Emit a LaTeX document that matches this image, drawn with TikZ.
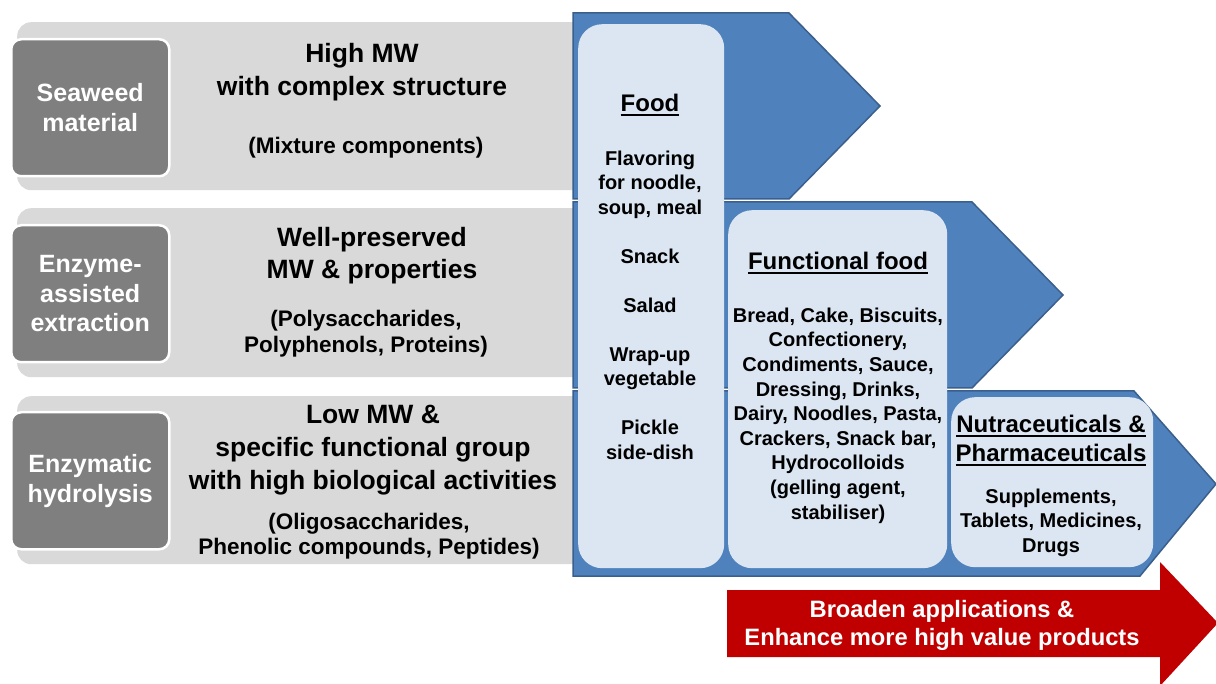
\documentclass[tikz,border=0pt]{standalone}
\usepackage{fontspec}
\setmainfont{Liberation Sans}
\definecolor{barg}{HTML}{D9D9D9}
\definecolor{darkg}{HTML}{7F7F7F}
\definecolor{blu}{HTML}{4F81BD}
\definecolor{bluedge}{HTML}{3A5F8C}
\definecolor{lightb}{HTML}{DCE6F2}
\definecolor{redarr}{HTML}{C00000}
\newcommand\myul[1]{\setbox0=\hbox{#1}\leavevmode\rlap{\rule[-4pt]{\wd0}{2pt}}\box0}
\begin{document}
\begin{tikzpicture}[x=1pt,y=-1pt,
  greybar/.style={fill=barg,draw=none,rounded corners=14pt,anchor=north west,inner sep=0pt,minimum width=590pt},
  darkbox/.style={fill=darkg,draw=white,line width=2.5pt,rounded corners=10pt,anchor=north west,inner sep=0pt,
    minimum width=158pt,minimum height=137pt,text=white,align=center,font=\fontsize{25}{30}\selectfont\bfseries},
  chev/.style={fill=blu,draw=bluedge,line width=1.5pt,line join=miter},
  lbox/.style={fill=lightb,draw=none,rounded corners=24pt,anchor=north west,inner sep=0pt},
  head/.style={anchor=north,align=center,inner sep=0pt},
]
\useasboundingbox (0,0) rectangle (1216,684);
\clip (0,0) rectangle (1216,684);

% grey rows
\node[greybar,minimum height=168pt] (g1) at (17,22) {};
\node[greybar,minimum height=169pt] (g2) at (17,208) {};
\node[greybar,minimum height=168pt] (g3) at (17,396) {};

% dark boxes
\node[darkbox] (d1) at (10,38) {Seaweed\\material};
\node[darkbox,font=\fontsize{25}{29.5}\selectfont\bfseries] (d2) at (10,224) {Enzyme-\\assisted\\extraction};
\node[darkbox] (d3) at (10,411) {Enzymatic\\hydrolysis};

% row texts
\node[head,font=\fontsize{26.5}{33}\selectfont\bfseries] (h1) at (362,43.2) {High MW\\with complex structure};
\node[head,font=\fontsize{22.5}{26}\selectfont\bfseries] (s1) at (366,136.7) {(Mixture components)};
\node[head,font=\fontsize{26.5}{32}\selectfont\bfseries] (h2) at (372,227.2) {Well-preserved\\MW \& properties};
\node[head,font=\fontsize{22.5}{26}\selectfont\bfseries] (s2) at (366,309.7) {(Polysaccharides,\\Polyphenols, Proteins)};
\node[head,font=\fontsize{26.5}{33}\selectfont\bfseries] (h3) at (373,405.2) {Low MW \&\\specific functional group\\with high biological activities};
\node[head,font=\fontsize{22.5}{25}\selectfont\bfseries] (s3) at (369,512.7) {(Oligosaccharides,\\Phenolic compounds, Peptides)};

% chevrons
\draw[chev] (573,13) -- (789,13) -- (880,106) -- (789,199) -- (573,199) -- cycle;
\draw[chev] (573,202) -- (972,202) -- (1063,295) -- (972,388) -- (573,388) -- cycle;
\draw[chev] (573,391) -- (1134,391) -- (1216,484) -- (1140,576) -- (573,576) -- cycle;

% light boxes
\node[lbox,minimum width=146pt,minimum height=544pt] (food) at (578,24) {};
\node[lbox,minimum width=219pt,minimum height=358pt] (func) at (728,210) {};
\node[lbox,minimum width=202pt,minimum height=170pt] (nutra) at (951,397) {};

% light box texts
\node[head,font=\fontsize{24}{29}\selectfont\bfseries] (foodh) at (650,94.1) {\myul{Food}};
\node[head,font=\fontsize{20}{24.5}\selectfont\bfseries] (foodt) at (650,150.6)
  {Flavoring\\for noodle,\\soup, meal\\[24.5pt]Snack\\[24.5pt]Salad\\[24.5pt]Wrap-up\\vegetable\\[24.5pt]Pickle\\side-dish};
\node[head,font=\fontsize{24}{29}\selectfont\bfseries] (funch) at (838,252.1) {\myul{Functional food}};
\node[head,font=\fontsize{20}{24.6}\selectfont\bfseries] (funct) at (838,307.6)
  {Bread, Cake, Biscuits,\\Confectionery,\\Condiments, Sauce,\\Dressing, Drinks,\\Dairy, Noodles, Pasta,\\Crackers, Snack bar,\\Hydrocolloids\\(gelling agent,\\stabiliser)};
\node[head,font=\fontsize{24}{29}\selectfont\bfseries] (nutrah) at (1051,415.1) {\myul{Nutraceuticals \&}\\\myul{Pharmaceuticals}};
\node[head,font=\fontsize{20}{24.5}\selectfont\bfseries] (nutrat) at (1051,488.6) {Supplements,\\Tablets, Medicines,\\Drugs};

% red arrow
\fill[redarr] (727,590) -- (1160,590) -- (1160,562) -- (1218,623) -- (1160,686) -- (1160,657) -- (727,657) -- cycle;
\node[head,text=white,font=\fontsize{23.7}{28}\selectfont\bfseries] (redt) at (942,600.2) {Broaden applications \&\\Enhance more high value products};
\end{tikzpicture}
\end{document}
